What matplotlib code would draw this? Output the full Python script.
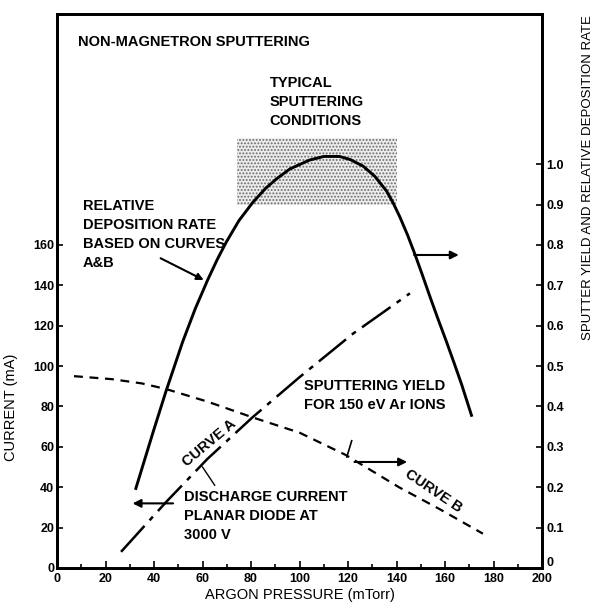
import numpy as np
import matplotlib
matplotlib.use('Agg')
import matplotlib.pyplot as plt
import matplotlib.transforms as mtrans
from matplotlib.patches import Rectangle

plt.rcParams['font.family'] = ['Liberation Sans', 'DejaVu Sans']
plt.rcParams['font.weight'] = 'bold'
plt.rcParams['hatch.color'] = '#6a6a6a'
plt.rcParams['hatch.linewidth'] = 0.9

# relative deposition rate (right axis)
dep_p = [32.5, 39.8, 44.9, 51.8, 57, 62.1, 66, 69.7, 75, 80.7, 86, 90.4, 96, 104.1,
         110, 116.5, 121, 126.2, 131, 135.8, 138.5, 141.3, 144.5, 147.5, 150.5, 153.7,
         157, 160.6, 163.7, 166.8, 170.9]
dep_r = [0.197, 0.34, 0.437, 0.56, 0.642, 0.713, 0.763, 0.806, 0.86, 0.905, 0.94,
         0.963, 0.988, 1.01, 1.019, 1.019, 1.011, 0.995, 0.97, 0.934, 0.905, 0.87, 0.825,
         0.778, 0.728, 0.673, 0.618, 0.56, 0.508, 0.455, 0.378]

# curve A: discharge current (left axis, mA)
curA_p = [26.4, 45, 62, 80.6, 100, 122, 145.5]
curA_i = [8, 32.7, 54, 74.6, 94.5, 116, 136]

# curve B: sputtering yield (right axis)
curB_p = [7, 22.7, 35, 45, 62, 80.6, 100, 119, 141, 158, 175.6]
curB_y = [0.475, 0.4675, 0.457, 0.443, 0.412, 0.373, 0.335, 0.28, 0.20, 0.145, 0.085]

x_ticks = list(range(0, 201, 20))
left_ticks = list(range(0, 161, 20))
right_ticks = [0, 0.1, 0.2, 0.3, 0.4, 0.5, 0.6, 0.7, 0.8, 0.9, 1.0]
right_labels = ['0', '0.1', '0.2', '0.3', '0.4', '0.5', '0.6', '0.7', '0.8', '0.9', '1.0']

FS = 10.5   # annotation text
TS = 9      # tick labels
LS = 1.45   # line spacing of the multi-line notes
fig = plt.figure(figsize=(5.97, 6.12), dpi=100)
ax = fig.add_axes([0.0955, 0.0719, 0.8125, 0.9051])
ax2 = ax.twinx()
ymax = 274.3
ax.set_xlim(0, 200); ax.set_ylim(0, ymax)
ax2.set_ylim(0, ymax / 200)

for a in (ax, ax2):
    for s in a.spines.values():
        s.set_linewidth(2)

ax.set_xticks(x_ticks)
ax.set_xticks(range(0, 201, 10), minor=True)
ax.set_yticks(left_ticks)
ax.tick_params(axis='both', which='both', direction='in', labelsize=TS, width=1.2)
ax.tick_params(axis='x', which='major', length=5)
ax.tick_params(axis='x', which='minor', length=3)
ax.tick_params(axis='y', length=4, pad=2)
ax2.set_yticks(right_ticks)
ax2.set_yticklabels(right_labels)
ax2.tick_params(axis='y', direction='in', labelsize=TS, length=4, width=1.2, pad=3)
# lift the right-hand "0" a little, as in the original
lbl0 = ax2.get_yticklabels()[0]
lbl0.set_transform(lbl0.get_transform() + mtrans.ScaledTranslation(0, 5 / 72, fig.dpi_scale_trans))

ax.set_xlabel('ARGON PRESSURE (mTorr)', fontsize=FS, labelpad=2)
ax.set_ylabel('CURRENT (mA)', fontsize=FS)
ax.yaxis.set_label_coords(-0.08, 0.29)
ax2.set_ylabel('SPUTTER YIELD AND RELATIVE DEPOSITION RATE', fontsize=9.5)
ax2.yaxis.set_label_coords(1.083, 0.705)

# typical sputtering conditions box
ax2.add_patch(Rectangle((74.4, 0.9), 65.6, 0.165, facecolor='#ececec',
                        hatch='.....', edgecolor='#6a6a6a', lw=0, zorder=1))

ax2.plot(dep_p, dep_r, color='black', lw=2.1, zorder=3, solid_joinstyle='round')
ax.plot(curA_p, curA_i, color='black', lw=1.8, dashes=[14, 3, 2, 3], zorder=3)
ax2.plot(curB_p, curB_y, color='black', lw=1.6, dashes=[4, 3], zorder=3)

ax.text(8.7, 260.4, 'NON-MAGNETRON SPUTTERING', fontsize=FS, va='center')
ax.text(87.6, 243.5, 'TYPICAL\nSPUTTERING\nCONDITIONS', fontsize=FS, va='top', linespacing=LS)
ax.text(10.7, 182.5, 'RELATIVE\nDEPOSITION RATE\nBASED ON CURVES\nA&B', fontsize=FS,
        va='top', linespacing=LS)
ax.annotate('', xy=(61.5, 142), xytext=(41.7, 154),
            arrowprops=dict(arrowstyle='-|>', color='black', lw=1.5, mutation_scale=10))
ax2.annotate('', xy=(166.8, 0.775), xytext=(146.1, 0.775),
             arrowprops=dict(arrowstyle='-|>', color='black', lw=1.5, mutation_scale=12))

ax.text(102, 93.5, 'SPUTTERING YIELD\nFOR 150 eV Ar IONS', fontsize=FS, va='top', linespacing=LS)

ax.text(63, 62, 'CURVE A', fontsize=FS, rotation=40, ha='center', va='center')
ax.plot([60, 65], [50, 41], color='black', lw=1)
ax.text(52.5, 38.5, 'DISCHARGE CURRENT\nPLANAR DIODE AT\n3000 V', fontsize=FS, va='top',
        linespacing=LS)
ax.annotate('', xy=(30, 32), xytext=(49, 32),
            arrowprops=dict(arrowstyle='-|>', color='black', lw=1.5, mutation_scale=12))

ax.plot([121.5, 119.5], [63, 55], color='black', lw=1.2)
ax.annotate('', xy=(145.5, 52.5), xytext=(121.5, 52.5),
            arrowprops=dict(arrowstyle='-|>', color='black', lw=1.5, mutation_scale=12))
ax.text(155, 38, 'CURVE B', fontsize=FS, rotation=-34, ha='center', va='center')

fig.savefig('out.png', dpi=100)
